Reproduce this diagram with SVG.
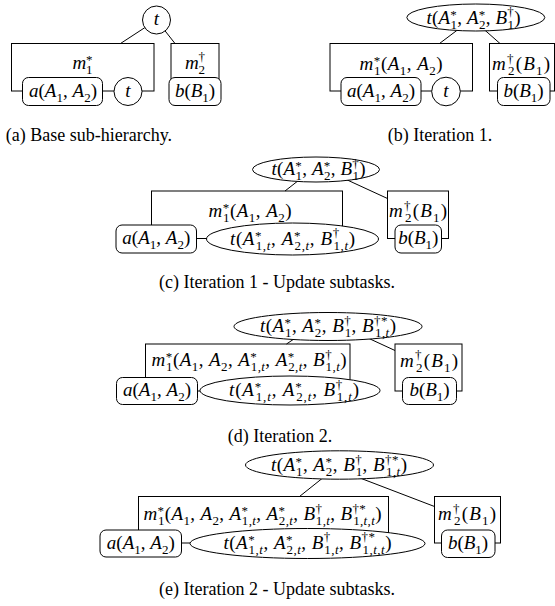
<svg xmlns="http://www.w3.org/2000/svg" width="555" height="606" viewBox="0 0 555 606">
<style>
.bx{fill:none;stroke:#000;stroke-width:1}
.n{fill:#fff;stroke:#000;stroke-width:1}
.c line{stroke:#000;stroke-width:1}
.m{font-family:"Liberation Serif","DejaVu Serif",serif;font-size:19px;text-anchor:middle;fill:#000}
.i{font-style:italic}
.s{font-size:13px}
.cap{font-family:"Liberation Serif","Times New Roman",serif;font-size:18px;text-anchor:middle;fill:#000}
</style>
<rect width="555" height="606" fill="#fff"/>

<!-- Panel (a) -->
<g id="a-m1"><rect class="bx" x="11.5" y="43.5" width="142.5" height="47.5"/><text class="m" x="82.5" y="68.5"><tspan class="i">m</tspan><tspan class="s" dy="-5">*</tspan><tspan class="s" dx="-6.5" dy="10">1</tspan></text></g>
<g id="a-m2"><rect class="bx" x="171" y="43.5" width="48" height="47.5"/><text class="m" x="195" y="68.5"><tspan class="i">m</tspan><tspan class="s" dy="-7.5">†</tspan><tspan class="s" dx="-6.5" dy="12.5">2</tspan></text></g>
<g id="a-connectors" class="c"><line x1="120.5" y1="43.5" x2="156.5" y2="20"/><line x1="175" y1="43.5" x2="156.5" y2="20"/></g>
<g id="a-t"><circle class="n" cx="156.5" cy="20" r="14"/><text class="m" x="156.5" y="25"><tspan class="i">t</tspan></text></g>
<g id="a-a"><rect class="n" x="22.5" y="77.5" width="80" height="28" rx="6"/><text class="m" x="63" y="96.5" textLength="68" lengthAdjust="spacing"><tspan class="i">a</tspan>(<tspan class="i">A</tspan><tspan class="s" dy="5">1</tspan><tspan dy="-5">, </tspan><tspan class="i">A</tspan><tspan class="s" dy="5">2</tspan><tspan dy="-5">)</tspan></text></g>
<g id="a-tc"><circle class="n" cx="128" cy="91.5" r="14"/><text class="m" x="128" y="96.5"><tspan class="i">t</tspan></text></g>
<g id="a-b"><rect class="n" x="169" y="77.5" width="52" height="28" rx="6"/><text class="m" x="195" y="96.5" textLength="40" lengthAdjust="spacing"><tspan class="i">b</tspan>(<tspan class="i">B</tspan><tspan class="s" dy="5">1</tspan><tspan dy="-5">)</tspan></text></g>
<text class="cap" x="89" y="141">(a) Base sub-hierarchy.</text>

<!-- Panel (b) -->
<g id="b-m1"><rect class="bx" x="330" y="43.5" width="142.5" height="47.5"/><text class="m" x="401" y="70" textLength="83" lengthAdjust="spacing"><tspan class="i">m</tspan><tspan class="s" dy="-5">*</tspan><tspan class="s" dx="-6.5" dy="10">1</tspan><tspan dy="-5">(</tspan><tspan class="i">A</tspan><tspan class="s" dy="5">1</tspan><tspan dy="-5">, </tspan><tspan class="i">A</tspan><tspan class="s" dy="5">2</tspan><tspan dy="-5">)</tspan></text></g>
<g id="b-m2"><rect class="bx" x="489.5" y="43.5" width="65" height="47.5"/><text class="m" x="521" y="70" textLength="58" lengthAdjust="spacing"><tspan class="i">m</tspan><tspan class="s" dy="-7.5">†</tspan><tspan class="s" dx="-6.5" dy="12.5">2</tspan><tspan dy="-5">(</tspan><tspan class="i">B</tspan><tspan class="s" dy="5">1</tspan><tspan dy="-5">)</tspan></text></g>
<g id="b-connectors" class="c"><line x1="439.5" y1="43.5" x2="474" y2="17.5"/><line x1="500" y1="43.5" x2="470.5" y2="17.5"/></g>
<g id="b-t"><ellipse class="n" cx="475.8" cy="17.5" rx="69" ry="13.5"/><text class="m" x="473.5" y="23.5" textLength="94" lengthAdjust="spacing"><tspan class="i">t</tspan>(<tspan class="i">A</tspan><tspan class="s" dy="-5">*</tspan><tspan class="s" dx="-6.5" dy="10">1</tspan><tspan dy="-5">, </tspan><tspan class="i">A</tspan><tspan class="s" dy="-5">*</tspan><tspan class="s" dx="-6.5" dy="10">2</tspan><tspan dy="-5">, </tspan><tspan class="i">B</tspan><tspan class="s" dy="-7.5">†</tspan><tspan class="s" dx="-6.5" dy="12.5">1</tspan><tspan dy="-5">)</tspan></text></g>
<g id="b-a"><rect class="n" x="341" y="77.5" width="80" height="28" rx="6"/><text class="m" x="381" y="96.5" textLength="68" lengthAdjust="spacing"><tspan class="i">a</tspan>(<tspan class="i">A</tspan><tspan class="s" dy="5">1</tspan><tspan dy="-5">, </tspan><tspan class="i">A</tspan><tspan class="s" dy="5">2</tspan><tspan dy="-5">)</tspan></text></g>
<g id="b-tc"><circle class="n" cx="446" cy="91.5" r="14.3"/><text class="m" x="446" y="96.5"><tspan class="i">t</tspan></text></g>
<g id="b-b"><rect class="n" x="497.5" y="77.5" width="52.5" height="28" rx="6"/><text class="m" x="523.5" y="96.5" textLength="40" lengthAdjust="spacing"><tspan class="i">b</tspan>(<tspan class="i">B</tspan><tspan class="s" dy="5">1</tspan><tspan dy="-5">)</tspan></text></g>
<text class="cap" x="440" y="141">(b) Iteration 1.</text>

<!-- Panel (c) -->
<g id="c-m1"><rect class="bx" x="151.5" y="191" width="191" height="47.5"/><text class="m" x="250" y="217" textLength="83" lengthAdjust="spacing"><tspan class="i">m</tspan><tspan class="s" dy="-5">*</tspan><tspan class="s" dx="-6.5" dy="10">1</tspan><tspan dy="-5">(</tspan><tspan class="i">A</tspan><tspan class="s" dy="5">1</tspan><tspan dy="-5">, </tspan><tspan class="i">A</tspan><tspan class="s" dy="5">2</tspan><tspan dy="-5">)</tspan></text></g>
<g id="c-m2"><rect class="bx" x="387.5" y="191" width="61" height="47.5"/><text class="m" x="418" y="217" textLength="58" lengthAdjust="spacing"><tspan class="i">m</tspan><tspan class="s" dy="-7.5">†</tspan><tspan class="s" dx="-6.5" dy="12.5">2</tspan><tspan dy="-5">(</tspan><tspan class="i">B</tspan><tspan class="s" dy="5">1</tspan><tspan dy="-5">)</tspan></text></g>
<g id="c-connectors" class="c"><line x1="285" y1="191" x2="312.5" y2="169.5"/><line x1="387.5" y1="198.5" x2="324.5" y2="169.5"/></g>
<g id="c-t"><ellipse class="n" cx="316" cy="169.5" rx="63.5" ry="12.5"/><text class="m" x="318.5" y="175" textLength="94" lengthAdjust="spacing"><tspan class="i">t</tspan>(<tspan class="i">A</tspan><tspan class="s" dy="-5">*</tspan><tspan class="s" dx="-6.5" dy="10">1</tspan><tspan dy="-5">, </tspan><tspan class="i">A</tspan><tspan class="s" dy="-5">*</tspan><tspan class="s" dx="-6.5" dy="10">2</tspan><tspan dy="-5">, </tspan><tspan class="i">B</tspan><tspan class="s" dy="-7.5">†</tspan><tspan class="s" dx="-6.5" dy="12.5">1</tspan><tspan dy="-5">)</tspan></text></g>
<g id="c-a"><rect class="n" x="116" y="225" width="80.5" height="28" rx="6"/><text class="m" x="156.3" y="244" textLength="68" lengthAdjust="spacing"><tspan class="i">a</tspan>(<tspan class="i">A</tspan><tspan class="s" dy="5">1</tspan><tspan dy="-5">, </tspan><tspan class="i">A</tspan><tspan class="s" dy="5">2</tspan><tspan dy="-5">)</tspan></text></g>
<g id="c-tc"><ellipse class="n" cx="292.5" cy="239" rx="86" ry="16"/><text class="m" x="292.5" y="244.5" textLength="125" lengthAdjust="spacing"><tspan class="i">t</tspan>(<tspan class="i">A</tspan><tspan class="s" dy="-5">*</tspan><tspan class="s" dx="-6.5" dy="10">1,<tspan class="i">t</tspan></tspan><tspan dy="-5">, </tspan><tspan class="i">A</tspan><tspan class="s" dy="-5">*</tspan><tspan class="s" dx="-6.5" dy="10">2,<tspan class="i">t</tspan></tspan><tspan dy="-5">, </tspan><tspan class="i">B</tspan><tspan class="s" dy="-7.5">†</tspan><tspan class="s" dx="-6.5" dy="12.5">1,<tspan class="i">t</tspan></tspan><tspan dy="-5">)</tspan></text></g>
<g id="c-b"><rect class="n" x="395" y="225" width="46.5" height="28" rx="6"/><text class="m" x="418.3" y="244" textLength="40" lengthAdjust="spacing"><tspan class="i">b</tspan>(<tspan class="i">B</tspan><tspan class="s" dy="5">1</tspan><tspan dy="-5">)</tspan></text></g>
<text class="cap" x="277" y="288">(c) Iteration 1 - Update subtasks.</text>

<!-- Panel (d) -->
<g id="d-m1"><rect class="bx" x="145.5" y="344" width="204.5" height="47"/><text class="m" x="249" y="366" textLength="195" lengthAdjust="spacing"><tspan class="i">m</tspan><tspan class="s" dy="-5">*</tspan><tspan class="s" dx="-6.5" dy="10">1</tspan><tspan dy="-5">(</tspan><tspan class="i">A</tspan><tspan class="s" dy="5">1</tspan><tspan dy="-5">, </tspan><tspan class="i">A</tspan><tspan class="s" dy="5">2</tspan><tspan dy="-5">, </tspan><tspan class="i">A</tspan><tspan class="s" dy="-5">*</tspan><tspan class="s" dx="-6.5" dy="10">1,<tspan class="i">t</tspan></tspan><tspan dy="-5">, </tspan><tspan class="i">A</tspan><tspan class="s" dy="-5">*</tspan><tspan class="s" dx="-6.5" dy="10">2,<tspan class="i">t</tspan></tspan><tspan dy="-5">, </tspan><tspan class="i">B</tspan><tspan class="s" dy="-7.5">†</tspan><tspan class="s" dx="-6.5" dy="12.5">1,<tspan class="i">t</tspan></tspan><tspan dy="-5">)</tspan></text></g>
<g id="d-m2"><rect class="bx" x="395" y="344" width="67" height="47"/><text class="m" x="429" y="366.5" textLength="58" lengthAdjust="spacing"><tspan class="i">m</tspan><tspan class="s" dy="-7.5">†</tspan><tspan class="s" dx="-6.5" dy="12.5">2</tspan><tspan dy="-5">(</tspan><tspan class="i">B</tspan><tspan class="s" dy="5">1</tspan><tspan dy="-5">)</tspan></text></g>
<g id="d-connectors" class="c"><line x1="286.5" y1="344" x2="312.5" y2="326.5"/><line x1="395" y1="350.5" x2="343" y2="326.5"/></g>
<g id="d-t"><ellipse class="n" cx="328" cy="326.5" rx="94" ry="14"/><text class="m" x="328" y="332" textLength="136" lengthAdjust="spacing"><tspan class="i">t</tspan>(<tspan class="i">A</tspan><tspan class="s" dy="-5">*</tspan><tspan class="s" dx="-6.5" dy="10">1</tspan><tspan dy="-5">, </tspan><tspan class="i">A</tspan><tspan class="s" dy="-5">*</tspan><tspan class="s" dx="-6.5" dy="10">2</tspan><tspan dy="-5">, </tspan><tspan class="i">B</tspan><tspan class="s" dy="-7.5">†</tspan><tspan class="s" dx="-6.5" dy="12.5">1</tspan><tspan dy="-5">, </tspan><tspan class="i">B</tspan><tspan class="s" dy="-7.5">†*</tspan><tspan class="s" dx="-13" dy="12.5">1,<tspan class="i">t</tspan></tspan><tspan dy="-5">)</tspan></text></g>
<g id="d-a"><rect class="n" x="116.5" y="377.5" width="81" height="27" rx="6"/><text class="m" x="157" y="396" textLength="68" lengthAdjust="spacing"><tspan class="i">a</tspan>(<tspan class="i">A</tspan><tspan class="s" dy="5">1</tspan><tspan dy="-5">, </tspan><tspan class="i">A</tspan><tspan class="s" dy="5">2</tspan><tspan dy="-5">)</tspan></text></g>
<g id="d-tc"><ellipse class="n" cx="290" cy="390.5" rx="90" ry="14.5"/><text class="m" x="294" y="396" textLength="130" lengthAdjust="spacing"><tspan class="i">t</tspan>(<tspan class="i">A</tspan><tspan class="s" dy="-5">*</tspan><tspan class="s" dx="-6.5" dy="10">1,<tspan class="i">t</tspan></tspan><tspan dy="-5">, </tspan><tspan class="i">A</tspan><tspan class="s" dy="-5">*</tspan><tspan class="s" dx="-6.5" dy="10">2,<tspan class="i">t</tspan></tspan><tspan dy="-5">, </tspan><tspan class="i">B</tspan><tspan class="s" dy="-7.5">†</tspan><tspan class="s" dx="-6.5" dy="12.5">1,<tspan class="i">t</tspan></tspan><tspan dy="-5">)</tspan></text></g>
<g id="d-b"><rect class="n" x="402.5" y="377.5" width="54" height="27" rx="6"/><text class="m" x="429.5" y="396" textLength="40" lengthAdjust="spacing"><tspan class="i">b</tspan>(<tspan class="i">B</tspan><tspan class="s" dy="5">1</tspan><tspan dy="-5">)</tspan></text></g>
<text class="cap" x="280" y="441.5">(d) Iteration 2.</text>

<!-- Panel (e) -->
<g id="e-m1"><rect class="bx" x="138.5" y="496.5" width="250" height="46.5"/><text class="m" x="262.5" y="520" textLength="238" lengthAdjust="spacing"><tspan class="i">m</tspan><tspan class="s" dy="-5">*</tspan><tspan class="s" dx="-6.5" dy="10">1</tspan><tspan dy="-5">(</tspan><tspan class="i">A</tspan><tspan class="s" dy="5">1</tspan><tspan dy="-5">, </tspan><tspan class="i">A</tspan><tspan class="s" dy="5">2</tspan><tspan dy="-5">, </tspan><tspan class="i">A</tspan><tspan class="s" dy="-5">*</tspan><tspan class="s" dx="-6.5" dy="10">1,<tspan class="i">t</tspan></tspan><tspan dy="-5">, </tspan><tspan class="i">A</tspan><tspan class="s" dy="-5">*</tspan><tspan class="s" dx="-6.5" dy="10">2,<tspan class="i">t</tspan></tspan><tspan dy="-5">, </tspan><tspan class="i">B</tspan><tspan class="s" dy="-7.5">†</tspan><tspan class="s" dx="-6.5" dy="12.5">1,<tspan class="i">t</tspan></tspan><tspan dy="-5">, </tspan><tspan class="i">B</tspan><tspan class="s" dy="-7.5">†*</tspan><tspan class="s" dx="-13" dy="12.5">1,<tspan class="i">t</tspan>,<tspan class="i">t</tspan></tspan><tspan dy="-5">)</tspan></text></g>
<g id="e-m2"><rect class="bx" x="434.5" y="496.5" width="66" height="46.5"/><text class="m" x="467" y="520" textLength="58" lengthAdjust="spacing"><tspan class="i">m</tspan><tspan class="s" dy="-7.5">†</tspan><tspan class="s" dx="-6.5" dy="12.5">2</tspan><tspan dy="-5">(</tspan><tspan class="i">B</tspan><tspan class="s" dy="5">1</tspan><tspan dy="-5">)</tspan></text></g>
<g id="e-connectors" class="c"><line x1="299.5" y1="496.5" x2="339" y2="465"/><line x1="434.5" y1="506.5" x2="326" y2="465"/></g>
<g id="e-t"><ellipse class="n" cx="339.5" cy="465" rx="94" ry="14.2"/><text class="m" x="339" y="471" textLength="136" lengthAdjust="spacing"><tspan class="i">t</tspan>(<tspan class="i">A</tspan><tspan class="s" dy="-5">*</tspan><tspan class="s" dx="-6.5" dy="10">1</tspan><tspan dy="-5">, </tspan><tspan class="i">A</tspan><tspan class="s" dy="-5">*</tspan><tspan class="s" dx="-6.5" dy="10">2</tspan><tspan dy="-5">, </tspan><tspan class="i">B</tspan><tspan class="s" dy="-7.5">†</tspan><tspan class="s" dx="-6.5" dy="12.5">1</tspan><tspan dy="-5">, </tspan><tspan class="i">B</tspan><tspan class="s" dy="-7.5">†*</tspan><tspan class="s" dx="-13" dy="12.5">1,<tspan class="i">t</tspan></tspan><tspan dy="-5">)</tspan></text></g>
<g id="e-a"><rect class="n" x="100" y="530" width="81.5" height="27" rx="6"/><text class="m" x="140.8" y="548.5" textLength="68" lengthAdjust="spacing"><tspan class="i">a</tspan>(<tspan class="i">A</tspan><tspan class="s" dy="5">1</tspan><tspan dy="-5">, </tspan><tspan class="i">A</tspan><tspan class="s" dy="5">2</tspan><tspan dy="-5">)</tspan></text></g>
<g id="e-tc"><ellipse class="n" cx="307.5" cy="543.5" rx="117.5" ry="15"/><text class="m" x="307.5" y="548.5" textLength="168" lengthAdjust="spacing"><tspan class="i">t</tspan>(<tspan class="i">A</tspan><tspan class="s" dy="-5">*</tspan><tspan class="s" dx="-6.5" dy="10">1,<tspan class="i">t</tspan></tspan><tspan dy="-5">, </tspan><tspan class="i">A</tspan><tspan class="s" dy="-5">*</tspan><tspan class="s" dx="-6.5" dy="10">2,<tspan class="i">t</tspan></tspan><tspan dy="-5">, </tspan><tspan class="i">B</tspan><tspan class="s" dy="-7.5">†</tspan><tspan class="s" dx="-6.5" dy="12.5">1,<tspan class="i">t</tspan></tspan><tspan dy="-5">, </tspan><tspan class="i">B</tspan><tspan class="s" dy="-7.5">†*</tspan><tspan class="s" dx="-13" dy="12.5">1,<tspan class="i">t</tspan>,<tspan class="i">t</tspan></tspan><tspan dy="-5">)</tspan></text></g>
<g id="e-b"><rect class="n" x="441.5" y="530" width="53.5" height="27.5" rx="6"/><text class="m" x="468" y="548.5" textLength="40" lengthAdjust="spacing"><tspan class="i">b</tspan>(<tspan class="i">B</tspan><tspan class="s" dy="5">1</tspan><tspan dy="-5">)</tspan></text></g>
<text class="cap" x="277" y="595">(e) Iteration 2 - Update subtasks.</text>
</svg>
